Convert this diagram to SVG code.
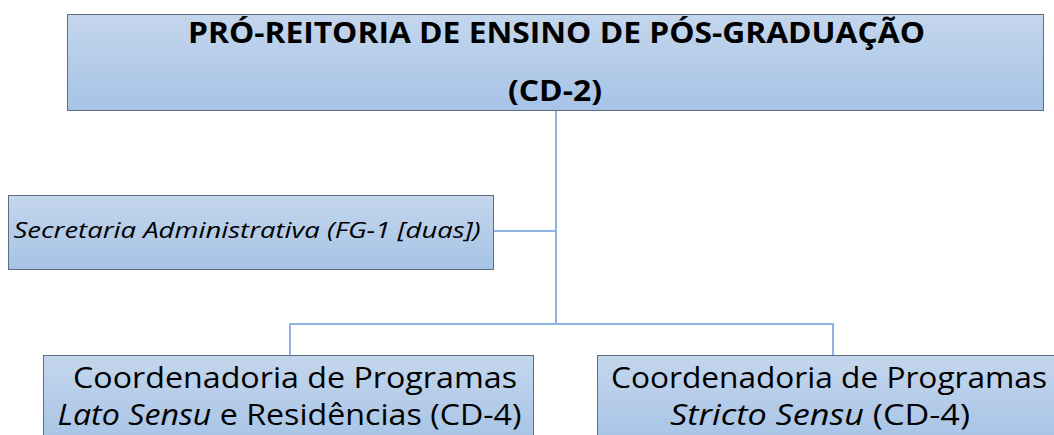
<svg xmlns="http://www.w3.org/2000/svg" width="1054" height="435" viewBox="0 0 1054 435">
<defs>
<linearGradient id="g" x1="0" y1="0" x2="0" y2="1">
<stop offset="0" stop-color="#c4d6ec"/>
<stop offset="1" stop-color="#a6c3e6"/>
</linearGradient>
<style>
.box{fill:url(#g);stroke:#5e6e80;stroke-width:1}
.t{font-family:"Open Sans","Liberation Sans",sans-serif;fill:#000;text-anchor:middle}
.b{font-weight:bold;font-size:28px}
.s{font-style:italic;font-size:22px}
.c{font-size:29px}
.i{font-style:italic}
.ln{stroke:#8cb3e1;stroke-width:2;fill:none}
</style>
</defs>
<rect width="1054" height="435" fill="#fff"/>
<g id="connectors">
<path class="ln" d="M556 110V324M290 355V324H833V355M493 231H556"/>
</g>
<g id="pro-reitoria">
<rect class="box" x="67.5" y="14.5" width="976" height="96"/>
<text class="t b" x="556.5" y="43" textLength="737" lengthAdjust="spacingAndGlyphs">PRÓ-REITORIA DE ENSINO DE PÓS-GRADUAÇÃO</text>
<text class="t b" x="555" y="101" textLength="94" lengthAdjust="spacingAndGlyphs">(CD-2)</text>
</g>
<g id="secretaria">
<rect class="box" x="8.5" y="195.5" width="485" height="74"/>
<text class="t s" x="247" y="238" textLength="467" lengthAdjust="spacingAndGlyphs">Secretaria Administrativa (FG-1 [duas])</text>
</g>
<g id="lato">
<rect class="box" x="43.5" y="355.5" width="490" height="90"/>
<text class="t c" x="295" y="388" textLength="444" lengthAdjust="spacingAndGlyphs">Coordenadoria de Programas</text>
<text class="t c" x="289.5" y="425" textLength="464" lengthAdjust="spacingAndGlyphs"><tspan class="i">Lato Sensu</tspan> e Residências (CD-4)</text>
</g>
<g id="stricto">
<rect class="box" x="597.5" y="355.5" width="470" height="90"/>
<text class="t c" x="829" y="388" textLength="436" lengthAdjust="spacingAndGlyphs">Coordenadoria de Programas</text>
<text class="t c" x="820" y="425" textLength="300" lengthAdjust="spacingAndGlyphs"><tspan class="i">Stricto Sensu</tspan> (CD-4)</text>
</g>
</svg>
